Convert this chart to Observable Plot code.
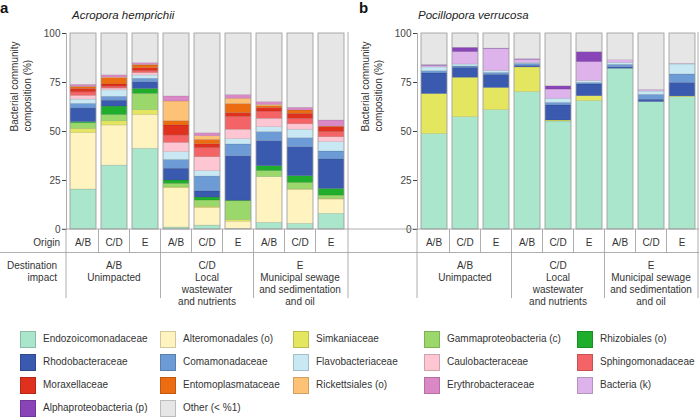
<!DOCTYPE html>
<html><head><meta charset="utf-8">
<script src="https://cdn.jsdelivr.net/npm/d3@7"></script>
<script src="https://cdn.jsdelivr.net/npm/@observablehq/plot@0.6"></script>
<style>
body{margin:0;background:#fff;}
#root{position:relative;width:699px;height:419px;overflow:hidden;font-family:"Liberation Sans",Arial,sans-serif;color:#333;}
#root svg{position:absolute;}
.lg{position:absolute;font-size:10px;line-height:12px;white-space:nowrap;color:#333;}
.sw{position:absolute;width:16px;height:17px;box-sizing:border-box;border:0.7px solid rgba(0,0,0,0.18);}
</style></head><body><div id="root"></div>
<script>
// ---- data ----
const families = ["Endozoicomonadaceae","Alteromonadales (o)","Simkaniaceae","Gammaproteobacteria (c)","Rhizobiales (o)",
  "Rhodobacteraceae","Comamonadaceae","Flavobacteriaceae","Caulobacteraceae","Sphingomonadaceae",
  "Moraxellaceae","Entomoplasmataceae","Rickettsiales (o)","Erythrobacteraceae","Bacteria (k)",
  "Alphaproteobacteria (p)","Other (< %1)"];
const colors = ["#a9e6cb","#fff3c0","#e5e65f","#9ad86b","#1fae2c",
  "#3a5ab0","#6d9bd5","#c8e8f3","#fec6d3","#f46366",
  "#e0301e","#ec6c12","#fec277","#db89c6","#deb2ea",
  "#8944b8","#e6e6e6"];
const origins = ["A/B","C/D","E","A/B","C/D","E","A/B","C/D","E"];
const destinations = [["A/B","Unimpacted"],["C/D","Local","wastewater","and nutrients"],["E","Municipal sewage","and sedimentation","and oil"]];
const yTicks = [0,25,50,75,100];
const titles = ["Acropora hemprichii","Pocillopora verrucosa"];
const panelLetters = ["a","b"];
const yLabel = "Bacterial community\ncomposition (%)";
// rows = families (order above), columns = 9 bars (origin within destination)
const acroporaValues = [
  [20.4,32.6,41.2, 1.0, 2.0, 0.3, 3.4, 2.9, 8.0],
  [28.8,20.5,17.3,20.1, 8.9, 3.7,23.3,17.3, 7.3],
  [ 2.1, 2.1, 2.4, 0.3, 0.7, 0.8, 0.0, 0.3, 0.3],
  [ 2.9, 3.2, 8.3, 1.9, 3.2, 9.6, 3.1, 3.3, 1.7],
  [ 0.6, 4.3, 2.5, 1.7, 1.5, 0.3, 2.5, 3.4, 3.4],
  [ 6.9, 3.0, 3.5, 6.0, 3.1,22.7,12.8,14.8,15.0],
  [ 2.4, 2.0, 1.7, 4.5, 7.6, 6.0, 4.6, 4.6, 4.1],
  [ 2.2, 3.3, 1.7, 4.0, 2.8, 2.7, 2.5, 4.3, 4.8],
  [ 1.9, 0.9, 1.2, 4.7, 7.1, 4.8, 4.3, 2.8, 2.5],
  [ 1.8, 0.9, 1.0, 3.8, 4.6, 6.5, 3.7, 2.8, 2.6],
  [ 1.7, 1.2, 1.5, 5.1, 2.0, 2.0, 1.7, 2.5, 2.5],
  [ 0.9, 3.2, 1.4, 2.2, 2.2, 4.6, 1.0, 1.7, 0.3],
  [ 0.2, 0.3, 0.3,10.0, 1.9, 2.7, 0.7, 0.0, 0.0],
  [ 1.0, 1.2, 0.9, 2.6, 1.5, 1.9, 1.4, 1.4, 3.1],
  [ 0.0, 0.0, 0.0, 0.0, 0.0, 0.0, 0.0, 0.0, 0.0],
  [ 0.0, 0.0, 0.0, 0.0, 0.0, 0.0, 0.0, 0.0, 0.0],
  [26.2,21.3,15.1,32.1,50.9,31.4,35.0,37.9,44.4]
];
const pocilloporaValues = [
  [48.7,57.3,60.9,70.1,55.1,65.5,82.0,65.0,67.5],
  [ 0.0, 0.0, 0.0, 0.0, 0.0, 0.0, 0.0, 0.0, 0.0],
  [20.4,20.1,11.3,12.6, 0.5, 2.5, 0.0, 0.0, 0.4],
  [ 0.0, 0.0, 0.0, 0.0, 0.0, 0.0, 0.0, 0.0, 0.0],
  [ 0.0, 0.0, 0.0, 0.0, 0.0, 0.0, 0.0, 0.0, 0.0],
  [10.5, 5.1, 6.7, 0.8, 7.7, 6.0, 0.8, 1.2, 6.9],
  [ 1.2, 0.7, 1.0, 1.0, 1.3, 0.8, 1.2, 2.5, 4.3],
  [ 1.9, 1.0, 0.9, 0.5, 2.1, 0.9, 1.0, 1.7, 5.1],
  [ 0.0, 0.0, 0.0, 0.0, 0.0, 0.0, 0.0, 0.0, 0.0],
  [ 0.0, 0.0, 0.0, 0.0, 0.0, 0.0, 0.0, 0.0, 0.0],
  [ 0.0, 0.0, 0.0, 0.0, 0.0, 0.0, 0.0, 0.0, 0.0],
  [ 0.0, 0.0, 0.0, 0.0, 0.0, 0.0, 0.0, 0.0, 0.0],
  [ 0.0, 0.0, 0.0, 0.0, 0.0, 0.0, 0.0, 0.0, 0.0],
  [ 0.0, 0.0, 0.0, 0.0, 0.0, 0.0, 0.0, 0.0, 0.0],
  [ 0.8, 6.3,11.3, 1.6, 4.7, 9.7, 1.4, 0.8, 0.3],
  [ 0.4, 2.2, 0.2, 0.3, 1.7, 5.1, 0.0, 0.0, 0.0],
  [16.1, 7.3, 7.7,13.1,26.9, 9.5,13.6,28.8,15.5]
];

// ---- drawing ----
const FONT = '"Liberation Sans",Arial,sans-serif';
const root = document.getElementById("root");

function panel(values, prefix, left, width, mLeft, mRight) {
  const ids = origins.map((_, i) => prefix + i);
  const data = [];
  ids.forEach((id, j) => families.forEach((f, k) => {
    const v = values[k][j];
    if (v > 0) data.push({id, family: f, value: v});
  }));
  const chart = Plot.plot({
    width, height: 232, marginTop: 33, marginBottom: 3, marginLeft: mLeft, marginRight: mRight,
    style: {fontFamily: FONT, fontSize: "10px", color: "#333", background: "transparent", overflow: "visible"},
    x: {domain: ids, paddingInner: 0.17, paddingOuter: 0.06, axis: null},
    y: {domain: [0, 100], axis: null},
    color: {domain: families, range: colors},
    marks: [
      Plot.barY(data, {x: "id", y: "value", fill: "family", stroke: "#000", strokeOpacity: 0.14, strokeWidth: 0.6}),
      Plot.barY(data, Plot.groupX({y: "sum"}, {x: "id", y: "value", fill: "none", stroke: "#a6a6a6", strokeWidth: 0.8})),
      Plot.frame({anchor: "left", stroke: "#999", strokeWidth: 0.8}),
      Plot.axisY({ticks: yTicks, tickSize: 4, tickPadding: 2, label: null, color: "#444"}),
      Plot.text([yLabel], {frameAnchor: "left", rotate: -90, dx: -46, lineHeight: 1.3, fontSize: 10, fill: "#333"})
    ]
  });
  chart.style.left = left + "px";
  chart.style.top = "0px";
  root.appendChild(chart);
  const sx = chart.scale("x");
  const xs = sx.domain.map(d => left + sx.apply(d));
  const bw = sx.bandwidth;
  const centers = xs.map(x => x + bw / 2);
  const b = [left + sx.range[0]];
  for (let i = 1; i < xs.length; i++) b.push((xs[i - 1] + bw + xs[i]) / 2);
  b.push(left + sx.range[1]);
  return {centers, b};
}

const A = panel(acroporaValues, "a", 0, 350, 66, 2);
const B = panel(pocilloporaValues, "b", 350, 349, 67, 1);

const svg = d3.select(root).append("svg").attr("width", 699).attr("height", 419)
  .style("left", "0px").style("top", "0px")
  .attr("font-family", FONT).attr("font-size", 10).attr("fill", "#333");

const line = (x1, y1, x2, y2) => svg.append("line").attr("x1", x1).attr("y1", y1).attr("x2", x2).attr("y2", y2)
  .attr("stroke", "#9a9a9a").attr("stroke-width", 0.8);

line(62, 229, 699, 229);
line(0, 252.5, 699, 252.5);
[A, B].forEach((P, pi) => {
  P.b.forEach(x => line(x, 229, x, 252.5));
  [0, 3, 6, 9].forEach(i => line(P.b[i], 252.5, P.b[i], 298));
  line(P.b[9], 32, P.b[9], 229);
  P.centers.forEach((c, i) => svg.append("text").attr("x", c).attr("y", 242).attr("dy", "0.35em")
    .attr("text-anchor", "middle").text(origins[i]));
  destinations.forEach((lines, g) => {
    lines.forEach((t, k) => svg.append("text").attr("x", P.centers[g * 3 + 1]).attr("y", 265 + k * 12)
      .attr("dy", "0.35em").attr("text-anchor", "middle").text(t));
  });
  const axisX = P.b[0];
  svg.append("text").attr("x", pi === 0 ? 0 : 359).attr("y", 13).attr("font-size", 15).attr("font-weight", "bold")
    .attr("fill", "#111").text(panelLetters[pi]);
  svg.append("text").attr("x", axisX + (pi === 0 ? 6 : 1)).attr("y", 19).attr("font-size", 11.5).attr("font-style", "italic")
    .attr("fill", "#222").text(titles[pi]);
});
svg.append("text").attr("x", 60).attr("y", 242).attr("dy", "0.35em").attr("text-anchor", "end").text("Origin");
svg.append("text").attr("x", 57).attr("y", 265).attr("dy", "0.35em").attr("text-anchor", "end").text("Destination");
svg.append("text").attr("x", 57).attr("y", 277).attr("dy", "0.35em").attr("text-anchor", "end").text("impact");

// legend
const colX = [20, 160, 293, 424, 577];
const rowY = [339, 362, 385, 408];
families.forEach((f, i) => {
  const c = i % 5, r = Math.floor(i / 5);
  const sw = document.createElement("div");
  sw.className = "sw";
  sw.style.left = colX[c] + "px";
  sw.style.top = (rowY[r] - 8.5) + "px";
  sw.style.background = colors[i];
  root.appendChild(sw);
  const lb = document.createElement("div");
  lb.className = "lg";
  lb.style.left = (colX[c] + 23) + "px";
  lb.style.top = (rowY[r] - 6) + "px";
  lb.textContent = f;
  root.appendChild(lb);
});
</script></body></html>
